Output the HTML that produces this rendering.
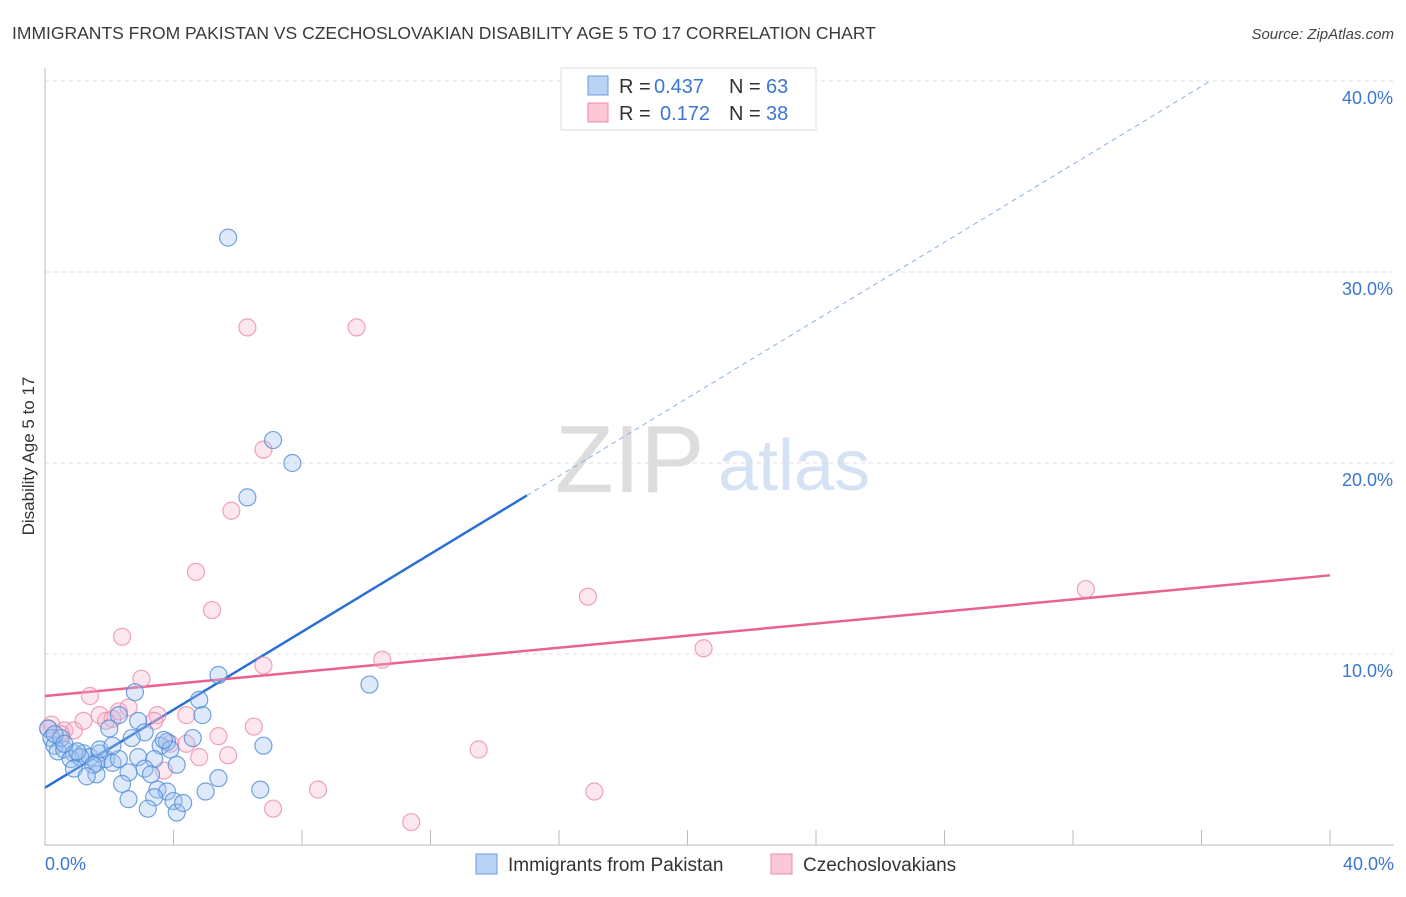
<!DOCTYPE html>
<html><head><meta charset="utf-8"><style>
body{margin:0;background:#fff;font-family:"Liberation Sans",sans-serif;}
svg text{font-family:"Liberation Sans",sans-serif;}
</style></head><body>
<svg id="chart" width="1406" height="892" xmlns="http://www.w3.org/2000/svg">
<text x="12" y="39" font-size="17.5" fill="#3a3a3a">IMMIGRANTS FROM PAKISTAN VS CZECHOSLOVAKIAN DISABILITY AGE 5 TO 17 CORRELATION CHART</text>
<text x="1394" y="39" font-size="15" fill="#444" font-style="italic" text-anchor="end">Source: ZipAtlas.com</text>
<text x="34" y="456" font-size="17" fill="#333" text-anchor="middle" transform="rotate(-90 34 456)">Disability Age 5 to 17</text>
<g><text x="555" y="492" font-size="96" fill="#ddd" font-family="Liberation Serif,serif">ZIP</text><text x="718" y="490" font-size="72" fill="#d4e2f4">atlas</text></g>
<g id="grid"></g><g id="axes"></g><g id="lines"></g><g id="pts"></g>
<g>
<rect x="561" y="68" width="255" height="62" fill="#fff" stroke="#ddd"/>
<rect x="588" y="76" width="20" height="19" fill="#b9d3f5" stroke="#6a9ee0"/>
<rect x="588" y="103" width="20" height="19" fill="#fcc7d6" stroke="#ec8aaa"/>
<text x="619" y="93" font-size="20" fill="#333">R =</text><text x="654" y="93" font-size="20" fill="#3b76d1">0.437</text>
<text x="729" y="93" font-size="20" fill="#333">N =</text><text x="766" y="93" font-size="20" fill="#3b76d1">63</text>
<text x="619" y="120" font-size="20" fill="#333">R =</text><text x="660" y="120" font-size="20" fill="#3b76d1">0.172</text>
<text x="729" y="120" font-size="20" fill="#333">N =</text><text x="766" y="120" font-size="20" fill="#3b76d1">38</text>
</g>
<g>
<rect x="476" y="854" width="21" height="20" fill="#b9d3f5" stroke="#6a9ee0"/>
<text x="508" y="871" font-size="19" fill="#333">Immigrants from Pakistan</text>
<rect x="771" y="854" width="21" height="20" fill="#fcc7d6" stroke="#ec8aaa"/>
<text x="803" y="871" font-size="19" fill="#333">Czechoslovakians</text>
</g>
</svg>
<script>
const yTicks=[10,20,30,40];
const xTickLabels=["0.0%","40.0%"];
const blueX=[5.7,7.1,7.7,6.3,5.4,10.1,2.8,4.8,4.9,2.3,2.9,2.0,3.1,4.6,6.8,3.6,3.8,0.1,0.2,0.3,0.4,0.6,0.9,1.2,1.4,1.7,1.9,2.1,0.8,1.1,2.3,2.9,3.4,1.6,0.9,2.6,1.6,3.1,3.3,4.1,5.4,2.4,3.5,3.8,2.6,3.4,4.0,5.0,6.7,3.2,4.1,1.7,0.5,3.9,2.1,0.3,1.0,1.5,2.7,3.7,0.6,1.3,4.3];
const blueY=[31.8,21.2,20.0,18.2,8.9,8.4,8.0,7.6,6.8,6.8,6.5,6.1,5.9,5.6,5.2,5.2,5.4,6.1,5.6,5.2,4.9,5.0,4.8,4.8,4.6,4.8,4.5,4.3,4.5,4.6,4.5,4.6,4.5,4.3,4.0,3.8,3.7,4.0,3.7,4.2,3.5,3.2,2.9,2.8,2.4,2.5,2.3,2.8,2.9,1.9,1.7,5.0,5.6,5.0,5.2,5.8,4.9,4.2,5.6,5.5,5.3,3.6,2.2];
const pinkX=[6.3,9.7,6.8,5.8,4.7,5.2,2.4,16.9,20.5,32.4,6.8,10.5,3.0,1.4,0.2,0.6,0.9,1.2,1.7,2.3,2.1,2.6,3.5,4.4,3.4,3.9,5.4,6.5,4.4,4.8,5.7,3.7,13.5,8.5,17.1,7.1,11.4,1.9,0.5,0.1];
const pinkY=[27.1,27.1,20.7,17.5,14.3,12.3,10.9,13.0,10.3,13.4,9.4,9.7,8.7,7.8,6.3,6.0,6.0,6.5,6.8,7.0,6.6,7.2,6.8,6.8,6.5,5.3,5.7,6.2,5.3,4.6,4.7,3.9,5.0,2.9,2.8,1.9,1.2,6.5,5.8,6.1];
const blueFit=[0,3.0,1.02], pinkFit=[7.8,0.158];
const NS="http://www.w3.org/2000/svg";
const X=v=>45+v/40*1285, Y=v=>845-v*19.1;
function mk(p,t,a){const e=document.createElementNS(NS,t);for(const k in a)e.setAttribute(k,a[k]);document.getElementById(p).appendChild(e);return e;}
yTicks.forEach(t=>{
 const g=mk('grid','line',{x1:45,x2:1394,y1:Y(t),y2:Y(t),stroke:'#ddd','stroke-dasharray':'4,4'});
 
 
 const l=mk('grid','text',{x:1393,y:Y(t)+23,'font-size':18,fill:'#3b76d1','text-anchor':'end'});
 l.textContent=t.toFixed(1)+'%';
 
 
});
const ax=mk('axes','path',{d:'M45,68V845H1394',stroke:'#bbb',fill:'none'});


for(let i=1;i<=10;i++){const t=mk('axes','line',{x1:X(i*4),x2:X(i*4),y1:830,y2:845,stroke:'#bbb'});
 
 }
[[0,'start',45],[40,'end',1394]].forEach((d,i)=>{const t=mk('axes','text',{x:d[2],y:870,'font-size':18,fill:'#3b76d1','text-anchor':d[1]});t.textContent=xTickLabels[i];
 
 });
const bf=x=>blueFit[1]+blueFit[2]*x;
let l1=mk('lines','line',{x1:X(0),y1:Y(bf(0)),x2:X(15),y2:Y(bf(15)),stroke:'#2a6fd6','stroke-width':2.5});


let l2=mk('lines','line',{x1:X(15),y1:Y(bf(15)),x2:X(36.3),y2:Y(bf(36.3)),stroke:'#8ab0e4','stroke-width':1,'stroke-dasharray':'5,4'});


let l3=mk('lines','line',{x1:X(0),y1:Y(pinkFit[0]),x2:X(40),y2:Y(pinkFit[0]+pinkFit[1]*40),stroke:'#e8648f','stroke-width':2.5});


pinkX.forEach((x,i)=>{const c=mk('pts','circle',{cx:X(x),cy:Y(pinkY[i]),r:8.5,fill:'rgba(248,176,198,0.3)',stroke:'rgba(236,140,170,0.8)','stroke-width':1.2});
 
 });
blueX.forEach((x,i)=>{const c=mk('pts','circle',{cx:X(x),cy:Y(blueY[i]),r:8.5,fill:'rgba(160,196,240,0.35)',stroke:'rgba(80,140,215,0.8)','stroke-width':1.2});
 
 });
</script>
</body></html>
